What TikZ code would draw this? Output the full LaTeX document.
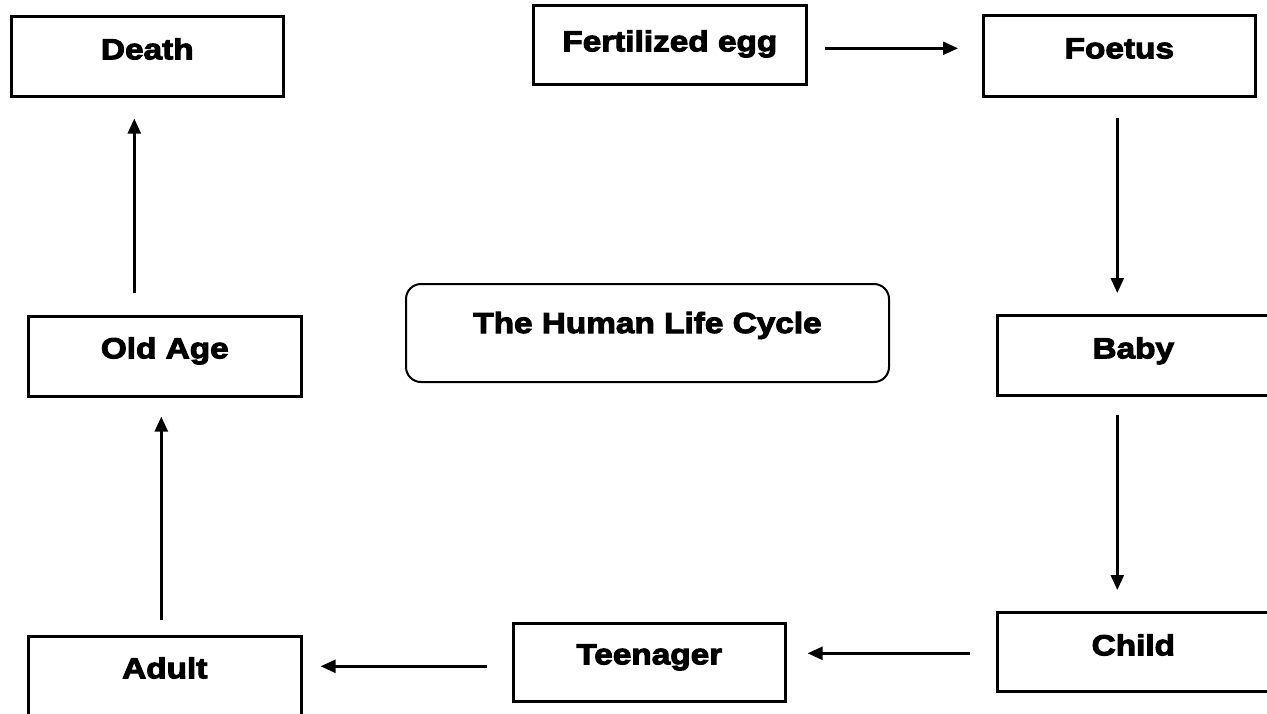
\documentclass[tikz,border=0pt]{standalone}
\usepackage{fontspec}
\newfontfamily\stagefont{Liberation Sans}[BoldFeatures={FakeBold=3.5,FakeStretch=1.15}]
\usetikzlibrary{arrows.meta}
\begin{document}
\begin{tikzpicture}[x=1pt,y=-1pt,
  stagebox/.style={draw, line width=2.6pt, inner sep=0pt, anchor=north west,
    font=\stagefont\bfseries\fontsize{29}{29}\selectfont},
  titlebox/.style={stagebox, line width=2pt, rounded corners=15pt},
  arr/.style={line width=2.5pt, -{Triangle[length=15pt,width=13pt]}}]
\clip (0,0) rectangle (1267,713);
\useasboundingbox (0,0) rectangle (1267,713);
% stage boxes: text height = top-to-baseline, text depth = baseline-to-bottom
\node[stagebox, minimum width=272pt, text height=43pt, text depth=37pt] (death) at (10,15) {Death};
\node[stagebox, minimum width=273pt, text height=46pt, text depth=33pt] (fert) at (532,4) {Fertilized egg};
\node[stagebox, minimum width=272pt, text height=43pt, text depth=38pt] (foetus) at (982,14) {Foetus};
\node[stagebox, minimum width=272pt, text height=43pt, text depth=37pt] (baby) at (996,314) {Baby};
\node[stagebox, minimum width=273pt, text height=42pt, text depth=38pt] (oldage) at (27,315) {Old Age};
\node[stagebox, minimum width=272pt, text height=41pt, text depth=37pt] (teen) at (512,622) {Teenager};
\node[stagebox, minimum width=272pt, text height=43pt, text depth=36pt] (child) at (996,611) {Child};
\node[stagebox, minimum width=273pt, text height=42pt, text depth=38pt] (adult) at (27,635) {Adult};
\node[titlebox, minimum width=483pt, text height=49pt, text depth=49pt] (title) at (405,283) {The Human Life Cycle};
% cycle arrows
\draw[arr, shorten <=17pt, shorten >=24pt] ([yshift=-3.5pt]fert.east) -- ([yshift=7.5pt]foetus.west);
\draw[arr, shorten <=20pt, shorten >=21pt] ([xshift=-2pt]foetus.south) -- ([xshift=-16pt]baby.north);
\draw[arr, shorten <=18pt, shorten >=21pt] ([xshift=-16pt]baby.south) -- ([xshift=-16pt]child.north);
\draw[arr, shorten <=26pt, shorten >=21pt] ([yshift=-1.5pt]child.west) -- ([yshift=9pt]teen.east);
\draw[arr, shorten <=25pt, shorten >=18pt] ([yshift=-4pt]teen.west) -- ([yshift=10pt]adult.east);
\draw[arr, shorten <=15pt, shorten >=19pt] ([xshift=-3.5pt]adult.north) -- ([xshift=-3.5pt]oldage.south);
\draw[arr, shorten <=22pt, shorten >=21pt] ([xshift=-30.5pt]oldage.north) -- ([xshift=-13pt]death.south);
\end{tikzpicture}
\end{document}
